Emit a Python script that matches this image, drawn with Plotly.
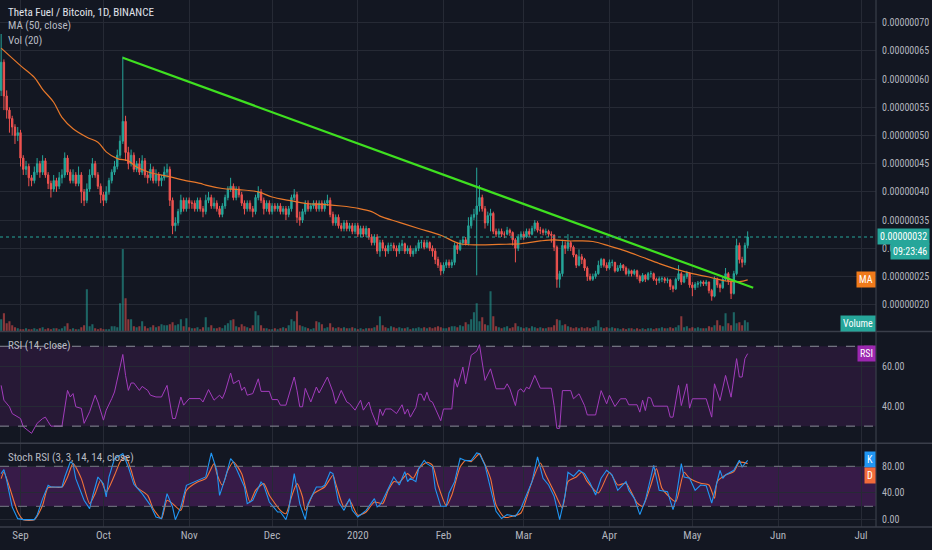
import numpy as np
import pandas as pd
import plotly.graph_objects as go

# ---------------- data (prices in satoshi = 1e-8 BTC) ----------------
start_date = "2019-08-25"
first_open = 58.0
closes = [
    63, 57, 54.5, 53, 51.5, 50, 50.5, 46, 44, 44.5,
    42.5, 42, 43.5, 45, 43.5, 45.5, 43, 41.5, 40.5, 42,
    41, 42.5, 43, 46, 43.5, 42, 43, 41.5, 43, 40,
    38.5, 40.5, 43, 45, 43, 41, 39.5, 38.5, 40, 42,
    43.5, 44.5, 46.5, 49, 52.5, 47, 45, 46.5, 44, 45,
    43.5, 45.5, 43, 42.5, 44, 42, 43, 42, 42.5, 43.5,
    44, 38.5, 34, 34.5, 36.5, 38.5, 37, 38.5, 38, 38,
    37, 38.5, 37, 36.5, 38.5, 39, 37.5, 38, 37, 36,
    37.5, 39, 40.5, 41, 39, 40.5, 39.5, 38, 37, 38,
    37, 36.5, 39, 40, 38.5, 37, 38, 36.5, 37.5, 37,
    37.5, 36.5, 37, 36, 37, 39, 39.5, 35.5, 35, 36.5,
    38, 37, 37.5, 38, 37, 38, 37, 38, 38.5, 36,
    34.5, 35.5, 34, 33.5, 34.5, 33.5, 34, 33, 34, 32.5,
    33.5, 32.5, 33.5, 32, 31, 32, 29.5, 31, 30, 29.5,
    30.5, 30.5, 30, 29.5, 30.5, 30.8, 29.5, 30, 29, 29.5,
    30, 31, 31, 30.2, 31, 30, 29.5, 28, 27, 26,
    27, 27.5, 27, 27.5, 30.5, 29.8, 31, 31.5, 30.8, 34,
    35.5, 36, 37.5, 39, 37, 34.5, 35.8, 36.2, 33, 32.5,
    33, 32.5, 32.5, 33.2, 32.8, 31.5, 30, 32, 32.5, 32,
    33, 32.5, 33.5, 34.5, 33.2, 33.2, 32.8, 33, 32.5, 32.3,
    30.2, 24.5, 25.5, 30.5, 30, 31, 30.2, 28.8, 27, 28.5,
    28, 26.5, 25, 24.5, 25, 25.5, 27, 28, 27, 26.5,
    27.5, 27.5, 26, 26.5, 27, 26.5, 25.5, 26, 25.5, 26,
    25, 24.2, 25.2, 24.5, 25.5, 25.5, 24.5, 24.3, 24.6, 24.6,
    24.3, 24.4, 23.2, 22.8, 24.5, 25.5, 24, 25, 25.6, 23.5,
    23, 23.6, 23.8, 24, 23.7, 24, 22.5, 21.5, 24.5, 23.5,
    23, 24.5, 25.5, 24.2, 22, 25.5, 30.5, 28, 27.5, 30.5,
    32,
]
highs = [
    68, 63.5, 58, 55, 53.5, 52, 51.5, 51, 46.5, 45.5,
    45, 43, 44.5, 46, 45.5, 46.5, 46, 43.5, 42, 43,
    42.5, 43.5, 44, 47, 46.5, 44, 44, 43.5, 44.5, 43.5,
    40.5, 41.5, 44, 46, 45.5, 43.5, 41.5, 40, 41, 42.5,
    44, 45.5, 47.5, 50, 64, 53.5, 48, 47.5, 47, 45.5,
    46, 46.5, 46, 43.5, 45, 44.5, 44, 43.5, 43, 44.5,
    45, 44.5, 39, 35.5, 37, 39.5, 39, 39, 39, 38.5,
    38.5, 39, 39, 37.5, 39.5, 40, 39.5, 39, 38.5, 37.5,
    38, 39.5, 41, 42.5, 41.5, 41, 41, 40, 38.5, 38.5,
    38.5, 37.5, 39.5, 41, 40.5, 39, 38.5, 38.5, 38, 38,
    38, 38, 37.5, 37.5, 37.5, 39.5, 40.5, 40, 36.5, 37,
    38.5, 38.5, 38, 38.5, 38.5, 38.5, 38.5, 38.5, 39.5, 39,
    36.5, 36, 36, 34.5, 35, 35, 34.5, 34.5, 34.5, 34.5,
    34, 34, 34, 33.5, 32.5, 32.5, 32.5, 31.5, 31.5, 30.5,
    31, 31, 31, 30.5, 31, 31.5, 31, 30.5, 30.5, 30,
    30.5, 31.5, 31.5, 31.5, 31.5, 31.2, 30.5, 30, 28.5, 27.5,
    27.5, 28, 28, 28, 31, 31, 31.5, 32, 32, 35.5,
    36, 37, 44.3, 41.2, 39.5, 37.5, 36.5, 37, 36.5, 33.5,
    33.5, 33.5, 33, 33.8, 33.5, 33, 31.8, 32.5, 33, 33,
    33.5, 33.5, 34, 35, 34.8, 33.8, 33.5, 33.5, 33.3, 33,
    32.5, 30.5, 26, 31.5, 31.2, 32.5, 31.3, 30.5, 29, 29.8,
    29, 28.3, 26.8, 25.5, 25.5, 26, 27.8, 28.3, 28.2, 27.5,
    28, 28, 27.6, 27, 27.4, 27.2, 26.8, 26.4, 26.2, 26.3,
    26.2, 25.3, 25.6, 25.4, 25.8, 26, 25.7, 24.8, 25, 25,
    24.9, 24.8, 24.6, 23.5, 24.8, 27, 25.8, 25.4, 26, 25.7,
    24, 24, 24.2, 24.3, 24.3, 24.4, 24.1, 22.8, 25, 24.8,
    23.8, 25, 26.5, 25.8, 24.4, 26, 31.7, 31, 28.5, 31,
    33,
]
lows = [
    57, 54.5, 53, 50.5, 50, 48.5, 49, 44.5, 43, 43,
    41, 41, 41.5, 43, 42.5, 43, 42.5, 40.5, 39, 40,
    40, 40.5, 41.5, 42.5, 43, 41.5, 41.5, 41, 41, 38,
    37.5, 38, 40, 42.5, 42.5, 40.5, 38, 37.5, 38, 39.5,
    41.5, 43, 44, 46, 48.5, 45.5, 44, 44.5, 43.5, 43.5,
    43, 43, 42.5, 41.5, 42, 41.5, 41.5, 41, 41, 42,
    42.5, 37.5, 32.5, 33, 34, 36, 36.5, 36.5, 37, 37,
    36.5, 36.5, 36.5, 35.5, 36, 38, 37, 37, 36.5, 35.5,
    35.5, 37, 38.5, 40, 38.5, 38.5, 39, 37.5, 36, 36.5,
    36.5, 35.5, 36, 38.5, 38, 36, 36.5, 36, 36, 36.5,
    36.5, 36, 36, 35, 35.5, 36.5, 38.5, 34.5, 34, 34.5,
    36, 36.5, 36.5, 37, 36.5, 36.5, 36.5, 36.5, 37.5, 35.5,
    34, 34, 33.5, 33, 33, 33, 33, 32.5, 32.5, 32,
    32, 32, 32, 31.5, 30.5, 30.5, 29, 28.5, 29.5, 28.5,
    29, 29.5, 29.5, 28.5, 29, 29.5, 29, 29, 28.5, 28.5,
    29, 29.5, 30, 29.8, 30, 29.5, 28.5, 27.2, 26.5, 25.2,
    25.5, 26.5, 26.5, 26.5, 27, 29, 29.5, 30.5, 30.5, 30.5,
    33.5, 35, 25.2, 36.5, 36.5, 33.5, 34, 33, 32.5, 32,
    32, 32, 31.8, 32.3, 32.2, 30.5, 27.5, 29.5, 31.5, 31.5,
    31.8, 32, 32.3, 33, 32.8, 32.5, 32.3, 32.3, 32, 31,
    29.5, 23, 23, 25, 29, 29.5, 29.5, 28.4, 26.5, 26.8,
    27.2, 26, 24.2, 24.2, 24.2, 24.6, 25.3, 26.5, 26.6, 26,
    26.2, 26.8, 25.7, 25.8, 26, 26, 25.2, 25, 25, 25.2,
    24.5, 23.8, 24, 24, 24.3, 24.8, 24.2, 23.5, 23.8, 24,
    23.8, 23.8, 22.6, 22.2, 22.6, 24.2, 23.5, 23.8, 24.6, 23,
    21.5, 22.6, 23, 23.2, 23.3, 23.3, 22, 20.7, 21.3, 23,
    22.2, 22.8, 24.2, 23.5, 21, 21.8, 25.2, 27.3, 26.6, 27,
    30,
]
volumes = [
    12, 18, 8, 10, 6, 4, 3, 2, 2, 3,
    2, 2, 3, 2, 3, 4, 2, 3, 2, 3,
    3, 2, 3, 5, 8, 2, 3, 2, 2, 4,
    6, 42, 5, 7, 3, 2, 3, 2, 2, 2,
    5, 5, 4, 28, 82, 33, 12, 12, 5, 4,
    5, 10, 5, 3, 4, 6, 4, 5, 7, 6,
    6, 7, 9, 6, 7, 12, 5, 13, 4, 3,
    3, 4, 2, 4, 14, 4, 6, 3, 3, 4,
    3, 6, 8, 11, 12, 5, 4, 7, 5, 4,
    3, 6, 20, 16, 6, 3, 3, 2, 2, 3,
    2, 3, 4, 3, 6, 12, 10, 20, 6, 5,
    4, 3, 2, 3, 10, 9, 7, 3, 4, 8,
    4, 3, 4, 3, 4, 3, 3, 4, 3, 2,
    3, 2, 3, 3, 3, 4, 6, 15, 6, 4,
    3, 5, 4, 3, 4, 3, 3, 4, 2, 3,
    3, 4, 3, 4, 3, 4, 3, 4, 5, 4,
    3, 3, 4, 5, 5, 4, 6, 5, 9, 7,
    12, 19, 28, 10, 14, 7, 6, 40, 15, 5,
    4, 3, 4, 5, 3, 4, 8, 5, 4, 3,
    4, 3, 5, 4, 3, 4, 3, 3, 4, 4,
    6, 12, 11, 6, 7, 5, 4, 3, 4, 3,
    4, 3, 4, 3, 4, 5, 11, 4, 3, 4,
    3, 4, 3, 3, 2, 3, 2, 3, 3, 2,
    3, 2, 3, 2, 3, 3, 2, 3, 3, 4,
    3, 3, 4, 3, 4, 6, 15, 4, 5, 3,
    4, 3, 4, 3, 3, 3, 5, 4, 6, 11,
    6, 5, 18, 8, 6, 19, 8, 9, 6, 11,
    9,
]

# MA(50, close): day offset from start_date -> value
ma_day = [0, 7, 12, 15, 19, 22, 26, 31, 35, 38, 42, 46, 49, 54, 60, 66, 72, 74, 80, 86,
          93, 98, 104, 111, 116, 123, 129, 134, 137, 144, 151, 159, 166, 173, 180, 188,
          195, 200, 205, 209, 214, 220, 226, 232, 238, 244, 250, 256, 262, 267, 270]
ma_val = [65.5, 62.4, 60.3, 58.2, 55.9, 53.2, 51.2, 49.7, 48.8, 47.1, 45.9, 45.5, 44.4,
          43.4, 42.8, 42.1, 41.5, 41.2, 40.6, 40.4, 40.0, 39.1, 38.5, 37.9, 37.8, 37.5,
          37.1, 36.5, 35.7, 34.6, 33.5, 32.3, 30.8, 30.6, 30.7, 30.8, 31.3, 31.5, 31.3,
          31.3, 31.2, 30.4, 29.5, 28.4, 27.3, 26.3, 25.5, 24.9, 24.2, 24.1, 24.4]

# RSI(14)
rsi_day = [0, 1, 3, 4, 7, 8, 11, 12, 13, 15, 16, 17, 18, 22, 24, 25, 26, 27, 29, 30,
           32, 34, 35, 37, 38, 40, 41, 43, 44, 45, 46, 47, 48, 50, 51, 53, 54, 56, 58, 60,
           61, 62, 63, 65, 66, 68, 72, 73, 75, 77, 79, 80, 81, 83, 84, 86, 87, 88, 89, 91,
           93, 94, 97, 98, 100, 101, 103, 106, 107, 108, 109, 110, 112, 114, 115, 118, 120,
           121, 123, 125, 126, 128, 130, 131, 133, 134, 136, 137, 138, 139, 141, 143, 145,
           146, 147, 148, 150, 151, 152, 153, 154, 155, 156, 159, 160, 163, 164, 165, 167,
           168, 170, 171, 172, 173, 174, 175, 177, 179, 182, 183, 184, 186, 187, 188, 189,
           190, 191, 193, 195, 199, 200, 201, 202, 203, 206, 207, 209, 211, 212, 215, 217,
           219, 220, 222, 224, 226, 227, 230, 231, 232, 233, 234, 235, 236, 241, 242, 243,
           245, 246, 248, 249, 250, 255, 257, 258, 260, 262, 264, 266, 267, 268, 269, 270]
rsi_val = [50.4, 43, 39.7, 36.3, 33.8, 29.7, 26.4, 28.9, 31.4, 33.8, 34.5, 32.2, 30, 30,
           47.9, 44.6, 46.3, 39.7, 38.9, 31.4, 37.2, 45.5, 42.1, 33, 38, 43.8, 47.1, 59.6,
           65.9, 55.4, 47.9, 51.6, 51.6, 47.9, 49.9, 47.9, 45.5, 44.6, 44.6, 50.4, 41.3,
           33.8, 33.8, 44.6, 40.5, 43.8, 43.8, 42.1, 48.3, 43, 45.5, 43.8, 47.1, 56.6, 51.3,
           53, 47.9, 49.6, 45.5, 46.3, 53.7, 47.4, 47.4, 43.3, 43.3, 40.5, 40.5, 54.6, 47.9,
           39.7, 39.7, 48.9, 42.1, 49.6, 46.6, 54.6, 47.1, 41.3, 47.9, 42.1, 41.3, 38, 43,
           38, 42.1, 37.2, 30.5, 38.6, 35.3, 38.6, 38.6, 36.3, 40.7, 36, 38.6, 34.5, 39.4,
           46, 46, 42.8, 47, 42.8, 42, 32.7, 38.6, 38.6, 53.7, 49.5, 59.6, 51.2, 65.5, 66.3,
           67.5, 70.8, 62.1, 52.9, 58.7, 48.7, 48.7, 51.2, 48.7, 40.3, 47.8, 48.7, 47, 49.5,
           48.7, 55.4, 49, 49, 40.3, 28.9, 28.9, 47.8, 47.8, 43.7, 46.2, 40.3, 35.6, 35.6,
           47.8, 41.2, 45.4, 39.8, 43.7, 43.7, 40.7, 40.7, 37, 43, 37.8, 44.5, 44, 40, 40,
           34.5, 34.5, 50.4, 40.3, 51.2, 39, 43.7, 43.7, 34.5, 51.2, 42.8, 55.4, 44.5, 63.8,
           54.6, 54.6, 63.8, 66.3]

# Stoch RSI %K
k_day = [0, 1, 2, 4, 6, 8, 12, 13, 15, 17, 18, 22, 23, 25, 26, 27, 30, 32, 33, 35,
         37, 38, 39, 41, 42, 44, 46, 48, 51, 54, 56, 58, 60, 62, 63, 65, 67, 71, 74, 76,
         78, 79, 81, 83, 84, 88, 89, 91, 94, 95, 97, 100, 101, 103, 104, 106, 108, 110, 111,
         114, 116, 117, 119, 120, 122, 124, 126, 127, 129, 132, 135, 136, 137, 138, 142, 144,
         146, 147, 148, 150, 151, 153, 154, 156, 157, 159, 161, 162, 164, 166, 168, 170,
         172, 173, 175, 177, 179, 181, 183, 186, 188, 190, 192, 194, 196, 198, 200, 202,
         204, 205, 207, 209, 211, 213, 215, 217, 219, 221, 223, 226, 227, 229, 231, 233,
         235, 236, 238, 241, 243, 244, 246, 247, 249, 251, 253, 255, 257, 258, 260, 261,
         262, 265, 267, 268, 270]
k_val = [69, 75, 59, 19, 1.5, 0, 0, 6.5, 31.5, 51.5, 49, 49, 64, 86.5, 84, 61.5, 29, 16.5,
         34, 64, 54, 34, 64, 91.5, 94, 99, 79, 53, 39, 21.5, 4, 1.5, 39, 19, 0, 19, 51.5, 59,
         64, 100, 74, 36.5, 61.5, 91.5, 86.5, 49, 24, 29, 56.5, 51.5, 26.5, 11.5, 11.5, 0, 14,
         69, 24, 0, 24, 49, 49, 51.5, 71.5, 69, 26.5, 14, 31.5, 14, 4, 14, 31.5, 19, 22, 29,
         64, 52, 72, 57, 62, 57, 76.6, 89, 84, 79, 47, 20, 20, 40, 57, 92, 88.5, 88.5, 100,
         99, 81.5, 47, 12.5, 1.7, 7.6, 5, 17, 37, 57, 94, 62, 52, 35, 0, 37, 71, 65, 74, 69,
         55, 37, 62, 74, 67, 44, 57, 44, 32, 7.6, 29, 66, 81.5, 44, 42, 15, 30, 84, 64, 62,
         44, 52, 51, 25, 42, 74, 62, 67, 74, 89, 79, 89]

# Stoch RSI %D
d_day = [0, 1, 3, 6, 8, 12, 15, 17, 22, 24, 26, 29, 32, 34, 36, 38, 41, 43, 45, 47,
         49, 53, 55, 58, 60, 62, 65, 67, 71, 74, 77, 78, 80, 82, 84, 87, 90, 92, 95, 97,
         101, 103, 105, 107, 109, 110, 113, 117, 120, 121, 124, 126, 129, 132, 135, 138, 140,
         142, 144, 147, 149, 151, 154, 156, 158, 161, 163, 166, 168, 170, 173, 174, 177, 179,
         182, 185, 188, 190, 192, 195, 197, 200, 203, 205, 208, 210, 212, 216, 220, 223, 226,
         230, 232, 235, 237, 239, 241, 244, 247, 249, 253, 256, 258, 259, 262, 265, 267, 270]
d_val = [61.5, 71.5, 49, 11.5, 0, 0, 21.5, 48, 49, 64, 84, 61.5, 24, 39, 59, 41.5, 66.5,
         86.5, 95, 74, 49, 36.5, 16.5, 1.5, 29, 24, 14, 44, 56.5, 61.5, 84, 69, 51.5, 74,
         86.5, 69, 26.5, 44, 54, 36.5, 14, 9, 34, 54, 34, 14, 39, 49, 66.5, 54, 19, 29, 6.5,
         11.5, 26.5, 24, 44, 57, 56, 69, 62, 76.6, 86, 81.5, 52, 21, 37, 79, 89, 87, 99, 91.5,
         62, 22, 3.6, 5, 10, 32, 57, 85, 67, 42, 17.5, 57, 64, 71, 57, 40, 71, 52, 54.6, 25,
         20, 52, 76.6, 47, 37, 27, 71, 62, 54.6, 52, 32, 57, 67, 72, 86, 84]

# hand-drawn trend line (two anchor points)
trend_day = [44, 272]
trend_val = [63.8, 23.0]
last_price = 32.0

month_ticks = ["2019-09-01", "2019-10-01", "2019-11-01", "2019-12-01", "2020-01-01",
               "2020-02-01", "2020-03-01", "2020-04-01", "2020-05-01", "2020-06-01",
               "2020-07-01"]
month_labels = ["Sep", "Oct", "Nov", "Dec", "2020", "Feb", "Mar", "Apr", "May", "Jun", "Jul"]
price_ticks = [20, 25, 30, 35, 40, 45, 50, 55, 60, 65, 70]
rsi_ticks = [40, 60]
stoch_ticks = [0, 40, 80]

# ---------------- build ----------------
SAT = 1e-8
start = pd.Timestamp(start_date)
n = len(closes)
dates = start + pd.to_timedelta(np.arange(n), unit="D")
opens = [first_open] + closes[:-1]
up = [c >= o for o, c in zip(opens, closes)]

def day_to_date(days):
    return [start + pd.Timedelta(days=int(d)) for d in days]

BG = "#131722"
GRID = "#262a35"
TXT = "#b2b5be"
TEAL = "#26a69a"
RED = "#ef5350"
NARROW = "Liberation Sans Narrow, Roboto Condensed, Roboto"

H_PLOT = 527.0
def py(px):
    return 1 - px / H_PLOT

XD = [0, 876 / 932]
fig = go.Figure()

fig.add_trace(go.Bar(
    x=dates, y=volumes, xaxis="x", yaxis="y2",
    marker=dict(color=["rgba(38,166,154,0.55)" if u else "rgba(239,83,80,0.55)" for u in up],
                line=dict(width=0)),
    hoverinfo="skip"))

fig.add_trace(go.Candlestick(
    x=dates,
    open=[v * SAT for v in opens], high=[v * SAT for v in highs],
    low=[v * SAT for v in lows], close=[v * SAT for v in closes],
    increasing=dict(line=dict(color=TEAL, width=1), fillcolor=TEAL),
    decreasing=dict(line=dict(color=RED, width=1), fillcolor=RED),
    whiskerwidth=0, xaxis="x", yaxis="y"))

fig.add_trace(go.Scatter(
    x=day_to_date(ma_day), y=[v * SAT for v in ma_val], mode="lines",
    line=dict(color="#e8782a", width=1.2, shape="spline"), xaxis="x", yaxis="y"))

fig.add_trace(go.Scatter(
    x=day_to_date(trend_day), y=[v * SAT for v in trend_val], mode="lines",
    line=dict(color="#3fe020", width=2.2), xaxis="x", yaxis="y"))

fig.add_trace(go.Scatter(
    x=day_to_date(rsi_day), y=rsi_val, mode="lines",
    line=dict(color="#a23cbc", width=1), xaxis="x2", yaxis="y3"))

fig.add_trace(go.Scatter(
    x=day_to_date(d_day), y=d_val, mode="lines",
    line=dict(color="#f2743a", width=1.1, shape="spline", smoothing=0.6), xaxis="x3", yaxis="y4"))
fig.add_trace(go.Scatter(
    x=day_to_date(k_day), y=k_val, mode="lines",
    line=dict(color="#2196f3", width=1.1), xaxis="x3", yaxis="y4"))

xrange = ["2019-08-24 14:00", "2020-07-06 10:00"]
xcommon = dict(range=xrange, type="date", tickvals=month_ticks, ticktext=month_labels,
               showgrid=True, gridcolor=GRID, gridwidth=1, zeroline=False, showline=False,
               domain=XD, tickfont=dict(color=TXT, size=11, family=NARROW), ticks="")

ycommon = dict(side="right", showgrid=True, gridcolor=GRID, zeroline=False, showline=False,
               ticks="", ticklabelstandoff=5,
               tickfont=dict(color=TXT, size=10, family=NARROW))

fig.update_layout(
    width=932, height=550,
    margin=dict(l=0, r=0, t=0, b=23, autoexpand=False),
    paper_bgcolor=BG, plot_bgcolor=BG,
    showlegend=False, bargap=0.25,
    font=dict(family=NARROW, color=TXT),
    xaxis=dict(xcommon, anchor="y", showticklabels=False, rangeslider=dict(visible=False)),
    xaxis2=dict(xcommon, anchor="y3", matches="x", showticklabels=False),
    xaxis3=dict(xcommon, anchor="y4", matches="x", showticklabels=True),
    yaxis=dict(ycommon, domain=[py(331.5), 1], anchor="x",
               range=[15.24 * SAT, 74.03 * SAT],
               tickvals=[v * SAT for v in price_ticks],
               ticktext=[f"{v * SAT:.8f}" for v in price_ticks]),
    yaxis2=dict(overlaying="y", range=[-0.3, 330.7], visible=False, anchor="x"),
    yaxis3=dict(ycommon, domain=[py(443.3), py(332.5)], anchor="x2",
                range=[21.4, 76.9], tickvals=rsi_ticks,
                ticktext=[f"{v:.2f}" for v in rsi_ticks]),
    yaxis4=dict(ycommon, domain=[0, py(444.3)], anchor="x3",
                range=[-11, 113], tickvals=stoch_ticks,
                ticktext=[f"{v:.2f}" for v in stoch_ticks]),
)

shapes = []
# RSI band + dashed levels
shapes.append(dict(type="rect", xref="x2 domain", yref="y3", x0=0, x1=1, y0=30, y1=70,
                   fillcolor="rgba(155,39,176,0.15)", line=dict(width=0), layer="below"))
for lv in (30, 70):
    shapes.append(dict(type="line", xref="x2 domain", yref="y3", x0=0, x1=1, y0=lv, y1=lv,
                       line=dict(color="#8a8d98", width=1, dash="dash")))
# Stoch band + dashed levels
shapes.append(dict(type="rect", xref="x3 domain", yref="y4", x0=0, x1=1, y0=20, y1=80,
                   fillcolor="rgba(155,39,176,0.27)", line=dict(width=0), layer="below"))
for lv in (20, 80):
    shapes.append(dict(type="line", xref="x3 domain", yref="y4", x0=0, x1=1, y0=lv, y1=lv,
                       line=dict(color="#787b86", width=1, dash="dash")))
# last price dotted line
shapes.append(dict(type="line", xref="x domain", yref="y", x0=0, x1=1,
                   y0=last_price * SAT, y1=last_price * SAT,
                   line=dict(color=TEAL, width=1, dash="dot")))
# pane separators and frame
for ypx in (331.5, 443.3):
    shapes.append(dict(type="line", xref="paper", yref="paper", x0=0, x1=1,
                       y0=py(ypx), y1=py(ypx), line=dict(color="#3a3e4a", width=1.5)))
shapes.append(dict(type="line", xref="paper", yref="paper", x0=0, x1=1, y0=0, y1=0,
                   line=dict(color="#3a3e4a", width=1.5)))
shapes.append(dict(type="line", xref="paper", yref="paper", x0=XD[1], x1=XD[1], y0=0, y1=1,
                   line=dict(color="#3a3e4a", width=1.2)))
fig.update_layout(shapes=shapes)

ann = []
def label(text, ypx, size=11, color="#c7cad1", xpx=6):
    ann.append(dict(text=text, xref="paper", yref="paper", x=xpx / 932, y=py(ypx),
                    xanchor="left", yanchor="middle", showarrow=False,
                    font=dict(size=size, color=color, family=NARROW)))

label("Theta Fuel / Bitcoin, 1D, BINANCE", 12.5, size=11, color="#e0e3eb")
label("MA (50, close)", 26, color="#b8bbc3")
label("Vol (20)", 40, color="#b8bbc3")
label("RSI (14, close)", 345.5, color="#b8bbc3")
label("Stoch RSI (3, 3, 14, 14, close)", 457.5, color="#b8bbc3")

def tag(text, xpx, ypx, bg, anchor="left", size=10):
    ann.append(dict(text=text, xref="paper", yref="paper", x=xpx / 932, y=py(ypx),
                    xanchor=anchor, yanchor="middle", showarrow=False, bgcolor=bg,
                    borderpad=2, font=dict(size=size, color="#ffffff", family=NARROW)))

tag(f"{last_price * SAT:.8f}", 876.5, 236.5, TEAL)
tag("09:23:46", 890, 251.5, TEAL)
tag("MA", 875.5, 279.5, "#f07a1a", anchor="right")
tag("Volume", 875.5, 323, TEAL, anchor="right")
tag("RSI", 875.5, 353, "#9c27b0", anchor="right")
tag("K", 875.5, 459, "#2196f3", anchor="right")
tag("D", 875.5, 475.5, "#f26b3a", anchor="right")
fig.update_layout(annotations=ann)

fig.write_html("out.html", config={"displayModeBar": False},
               post_script="document.body.style.margin='0px';document.body.style.overflow='hidden';")
